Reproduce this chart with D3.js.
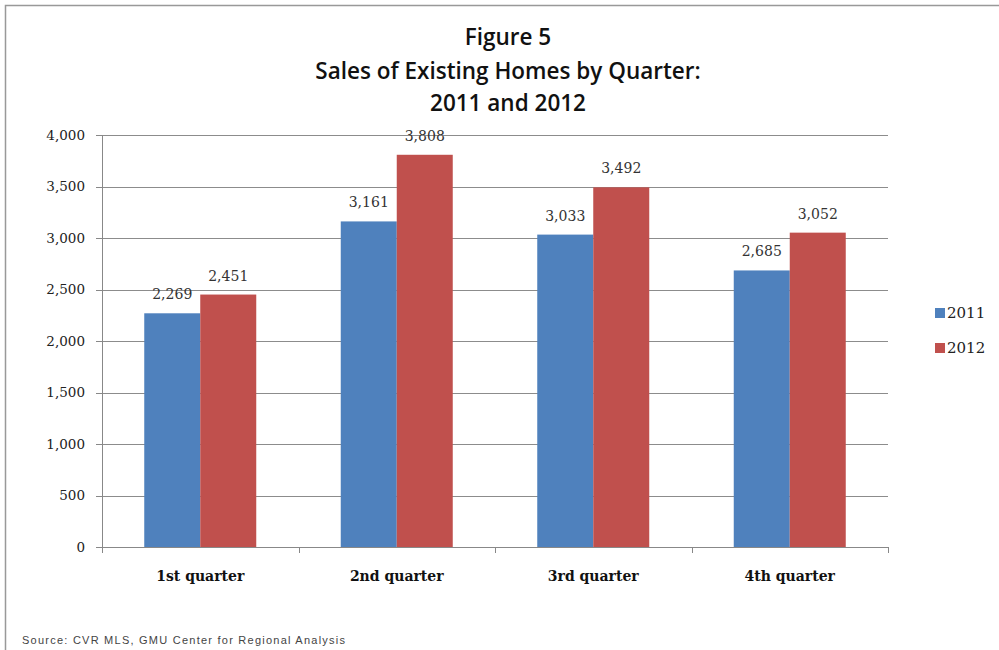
<!DOCTYPE html>
<meta charset="utf-8">
<style>
body { margin:0; background:#fff; }
.title { font-family:"Open Sans", sans-serif; font-weight:600; font-size:22.5px; text-anchor:middle; fill:#111; }
.axis text { font-family:"DejaVu Serif", serif; font-size:13.5px; fill:#222; }
.axis path, .axis line { stroke:#888; shape-rendering:crispEdges; }
.grid line { stroke:#8c8c8c; shape-rendering:crispEdges; }
.cat text { font-family:"DejaVu Serif", serif; font-weight:bold; font-size:14px; fill:#111; }
.lbl { font-family:"DejaVu Serif", serif; font-size:14px; fill:#333; text-anchor:middle; }
.legend text { font-family:"DejaVu Serif", serif; font-size:15px; fill:#222; }
.src { font-family:"Liberation Sans", sans-serif; font-size:11px; fill:#444; }
</style>
<body>
<script src="https://d3js.org/d3.v7.min.js"></script>
<script>

var quarters = ["1st quarter","2nd quarter","3rd quarter","4th quarter"];
var years = ["2011","2012"];
var sales2011 = [2269, 3161, 3033, 2685];
var sales2012 = [2451, 3808, 3492, 3052];
var yTicks = [0,500,1000,1500,2000,2500,3000,3500,4000];
var colors = {"2011":"#4f81bd","2012":"#c0504d"};

var series = {"2011":sales2011, "2012":sales2012};

var svg = d3.select("body").append("svg").attr("width",999).attr("height",650);

// frame
svg.append("rect").attr("x",5.5).attr("y",5.5).attr("width",1000).attr("height",700)
	.attr("fill","none").attr("stroke","#999").attr("stroke-width",1.5);

svg.append("text").attr("class","title").attr("x",508).attr("y",45).text("Figure 5");
svg.append("text").attr("class","title").attr("x",508).attr("y",79).text("Sales of Existing Homes by Quarter:");
svg.append("text").attr("class","title").attr("x",508).attr("y",111).text("2011 and 2012");

var pLeft = 102, pRight = 888, pTop = 135, pBottom = 547;

var x = d3.scaleBand().domain(quarters).range([pLeft,pRight]).paddingInner(0).paddingOuter(0);
var x1 = d3.scaleBand().domain(years).range([0,112]);
var y = d3.scaleLinear().domain([0,4000]).range([pBottom,pTop]);

// gridlines
svg.append("g").attr("class","grid")
	.selectAll("line").data(yTicks.filter(d=>d>0)).join("line")
	.attr("x1",pLeft).attr("x2",pRight)
	.attr("y1",d=>Math.round(y(d))+0.5).attr("y2",d=>Math.round(y(d))+0.5);

var yAxis = svg.append("g").attr("class","axis")
	.attr("transform","translate("+pLeft+",0)")
	.call(d3.axisLeft(y).tickValues(yTicks).tickSize(6).tickPadding(11).tickFormat(d3.format(",")));
yAxis.select(".domain").attr("d","M0.5,"+pTop+"V"+pBottom);

var xAxis = svg.append("g").attr("class","axis cat")
	.attr("transform","translate(0,"+pBottom+")")
	.call(d3.axisBottom(x).tickSize(0).tickPadding(24));
xAxis.select(".domain").attr("d","M"+pLeft+",0.5H"+pRight);
// category separator ticks
svg.append("g").attr("class","axis").selectAll("line")
	.data(quarters.map(q=>x(q)).concat([pRight])).join("line")
	.attr("x1",d=>Math.round(d)+0.5).attr("x2",d=>Math.round(d)+0.5)
	.attr("y1",pBottom).attr("y2",pBottom+6);

var groups = svg.append("g").selectAll("g").data(years).join("g");

groups.selectAll("rect").data(yr=>quarters.map((q,i)=>({q:q,yr:yr,v:series[yr][i]}))).join("rect")
	.attr("x",d=>x(d.q)+x.bandwidth()/2-56+x1(d.yr))
	.attr("width",x1.bandwidth())
	.attr("y",d=>y(d.v))
	.attr("height",d=>pBottom-y(d.v))
	.attr("fill",d=>colors[d.yr]);

groups.selectAll("text").data(yr=>quarters.map((q,i)=>({q:q,yr:yr,v:series[yr][i]}))).join("text")
	.attr("class","lbl")
	.attr("x",d=>x(d.q)+x.bandwidth()/2-56+x1(d.yr)+x1.bandwidth()/2)
	.attr("y",d=>y(d.v)-14)
	.text(d=>d3.format(",")(d.v));

var legend = svg.append("g").attr("class","legend").selectAll("g").data(years).join("g")
	.attr("transform",(d,i)=>"translate(935,"+(308+i*35)+")");
legend.append("rect").attr("width",10).attr("height",10).attr("fill",d=>colors[d]);
legend.append("text").attr("x",12).attr("y",10).text(d=>d);

svg.append("text").attr("class","src").attr("x",22).attr("y",644)
	.attr("textLength",323).attr("lengthAdjust","spacing")
	.text("Source: CVR MLS, GMU Center for Regional Analysis");
</script>
</body>
